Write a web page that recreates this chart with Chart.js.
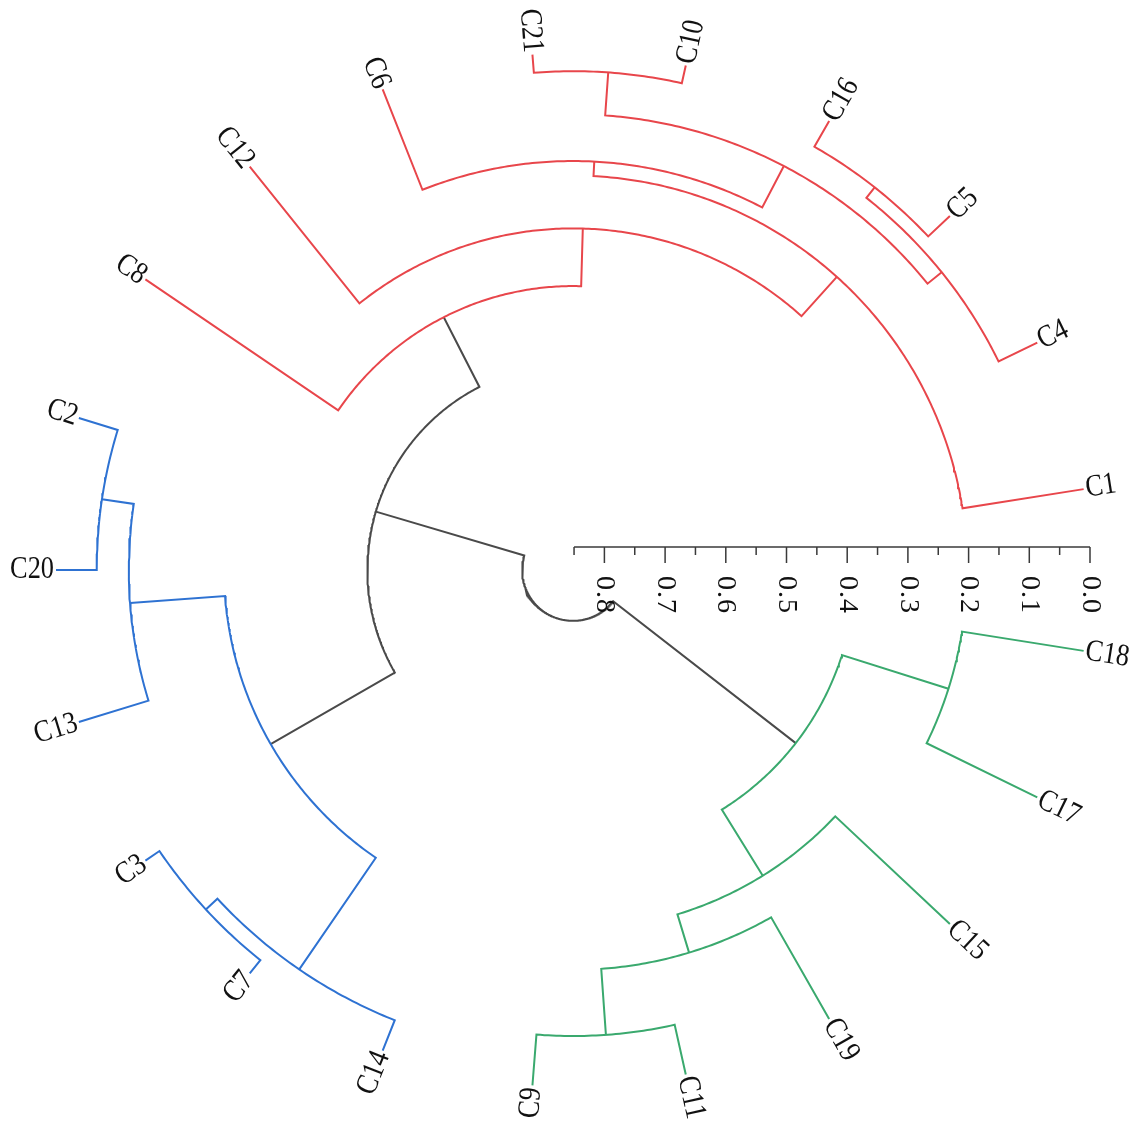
<!DOCTYPE html>
<html>
<head>
<meta charset="utf-8">
<script src="https://cdn.jsdelivr.net/npm/chart.js@4.4.1/dist/chart.umd.min.js"></script>
<style>
html,body{margin:0;padding:0;background:#ffffff;}
#wrap{width:1136px;height:1122px;position:relative;}
</style>
</head>
<body>
<div id="wrap"><canvas id="c"></canvas></div>
<script>
// ---- data ----
const leafOrder = ['C1','C4','C5','C16','C10','C21','C6','C12','C8','C2','C20','C13','C3','C7','C14','C9','C11','C19','C15','C17','C18'];
// hierarchical merges (node ids n0..n19 in this order)
const mergeLeft    = ['C3','C21','C16','n0','C2','C4','C9','n5','n4','n7','n6','C17','C1','n10','n8','n12','n15','n13','n16','n18'];
const mergeRight   = ['C7','C10','C5','C14','C20','n2','C11','n1','C13','C6','C19','C18','n9','C15','n3','C12','C8','n11','n14','n17'];
const mergeHeight  = [0.028,0.030,0.049,0.054,0.067,0.071,0.084,0.101,0.120,0.178,0.193,0.203,0.202,0.259,0.277,0.289,0.384,0.387,0.513,0.768];
const mergeCluster = ['blue','red','red','blue','blue','red','green','red','blue','red','green','green','red','green','blue','red','red','green','root','root'];
const axisTickValues = [0.8,0.7,0.6,0.5,0.4,0.3,0.2,0.1,0.0];
const axisTickLabels = ['0.8','0.7','0.6','0.5','0.4','0.3','0.2','0.1','0.0'];
const axisMax = 0.85;

// ---- styles / layout ----
const clusterColors = {red:'#E8464B', blue:'#2E72D2', green:'#3AA96E', root:'#4A4A4A'};
const startAngle = 9, angleStep = 17.1;     // degrees
const R0 = 517, pxPerUnit = 607;            // radius mapping
const radiusOf = h => R0 - pxPerUnit * h;
const axisY = 23;                            // axis offset above centre

// ---- geometry from data ----
const angleOf = {}, heightOf = {};
leafOrder.forEach((n,i) => { angleOf[n] = startAngle + i*angleStep; heightOf[n] = 0; });
mergeLeft.forEach((l,i) => {
  const id = 'n'+i, r = mergeRight[i];
  angleOf[id] = (angleOf[l] + angleOf[r]) / 2;
  heightOf[id] = mergeHeight[i];
});
const pol = (aDeg, rad) => ({x: rad*Math.cos(aDeg*Math.PI/180), y: rad*Math.sin(aDeg*Math.PI/180)});

const datasets = [];
mergeLeft.forEach((l,i) => {
  const r = mergeRight[i], rn = radiusOf(mergeHeight[i]);
  const a1 = Math.min(angleOf[l], angleOf[r]), a2 = Math.max(angleOf[l], angleOf[r]);
  const first = angleOf[l] <= angleOf[r] ? l : r, second = first === l ? r : l;
  const pts = [pol(angleOf[first], radiusOf(heightOf[first])), pol(a1, rn)];
  const n = Math.max(2, Math.ceil((a2 - a1) / 0.5));
  for (let k = 1; k < n; k++) pts.push(pol(a1 + (a2 - a1) * k / n, rn));
  pts.push(pol(a2, rn));
  pts.push(pol(angleOf[second], radiusOf(heightOf[second])));
  datasets.push({data: pts, showLine: true, borderColor: clusterColors[mergeCluster[i]], borderWidth: 2,
    pointRadius: 0, tension: 0, borderJoinStyle: 'miter', fill: false});
});

// axis ruler
const axisColor = '#3a3a3a';
datasets.push({data: [{x: radiusOf(axisMax), y: axisY}, {x: radiusOf(0), y: axisY}], showLine: true,
  borderColor: axisColor, borderWidth: 1.5, pointRadius: 0});
for (let k = 0; k <= Math.round(axisMax/0.05); k++) {
  const v = k*0.05, major = (k % 2 === 0);
  const x = radiusOf(v);
  datasets.push({data: [{x: x, y: axisY}, {x: x, y: axisY - (major ? 16 : 8)}], showLine: true,
    borderColor: axisColor, borderWidth: 1.5, pointRadius: 0});
}

const textPlugin = {
  id: 'texts',
  afterDatasetsDraw(chart) {
    const ctx = chart.ctx, sx = chart.scales.x, sy = chart.scales.y;
    ctx.save();
    ctx.fillStyle = '#111111';
    // leaf labels
    ctx.font = '31px "Liberation Serif", "DejaVu Serif", serif';
    ctx.textBaseline = 'middle';
    leafOrder.forEach(name => {
      const a = angleOf[name];
      const p = pol(a, radiusOf(0) + 2);
      ctx.save();
      ctx.translate(sx.getPixelForValue(p.x), sy.getPixelForValue(p.y));
      if (a > 90 && a < 270) { ctx.rotate(-(a-180)*Math.PI/180); ctx.textAlign = 'right'; }
      else { ctx.rotate(-a*Math.PI/180); ctx.textAlign = 'left'; }
      ctx.scale(0.85, 1);
      ctx.fillText(name, 0, 0);
      ctx.restore();
    });
    // axis labels
    ctx.font = '28px "Liberation Serif", "DejaVu Serif", serif';
    try { ctx.letterSpacing = '1px'; } catch(e) {}
    axisTickValues.forEach((v,i) => {
      ctx.save();
      ctx.translate(sx.getPixelForValue(radiusOf(v)), sy.getPixelForValue(axisY) + 29);
      ctx.rotate(Math.PI/2);
      ctx.textAlign = 'left';
      ctx.textBaseline = 'middle';
      ctx.fillText(axisTickLabels[i], 0, 0);
      ctx.restore();
    });
    ctx.restore();
  }
};

new Chart(document.getElementById('c'), {
  type: 'scatter',
  data: {datasets: datasets},
  options: {
    responsive: true, maintainAspectRatio: false, animation: false,
    layout: {padding: 0},
    plugins: {legend: {display: false}, tooltip: {enabled: false}},
    scales: {
      x: {type: 'linear', min: -573, max: 563, display: false},
      y: {type: 'linear', min: -552, max: 570, display: false}
    }
  },
  plugins: [textPlugin]
});
</script>
</body>
</html>
